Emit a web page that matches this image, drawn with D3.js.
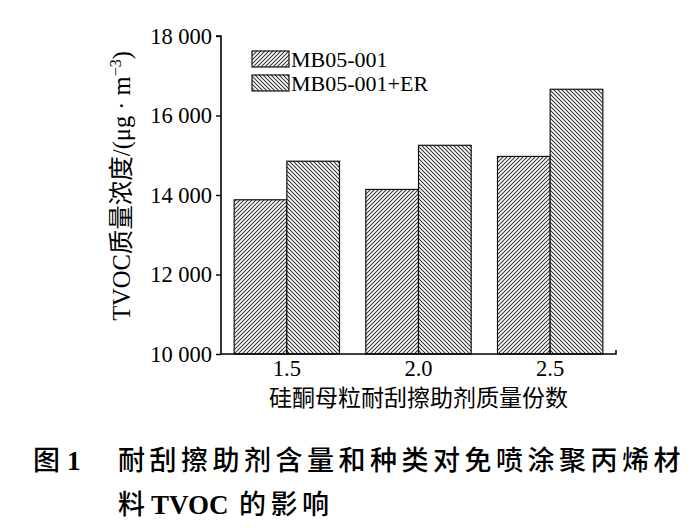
<!DOCTYPE html>
<html>
<head>
<meta charset="utf-8">
<script src="https://cdn.jsdelivr.net/npm/d3@7/dist/d3.min.js"></script>
<style>
  html, body { margin: 0; padding: 0; background: #fff; }
  svg { display: block; }
  .serif { font-family: "Liberation Serif", "Times New Roman", "Noto Sans CJK SC", serif; }
</style>
</head>
<body>
<svg id="chart" width="697" height="528"></svg>
<script>
// ---- data ----
const categories = ["1.5", "2.0", "2.5"];
const seriesNames = ["MB05-001", "MB05-001+ER"];
const seriesMB = [13880, 14140, 14970];
const seriesMBER = [14850, 15250, 16660];
const yTicks = [10000, 12000, 14000, 16000, 18000];
const yTickLabels = ["10 000", "12 000", "14 000", "16 000", "18 000"];
const xLabel = "硅酮母粒耐刮擦助剂质量份数";
const captionNum = ["图", "1"];
const captionLine1 = "耐刮擦助剂含量和种类对免喷涂聚丙烯材";
const captionLine2 = ["料 ", "TVOC", " 的影响"];

const svg = d3.select("#chart");
const defs = svg.append("defs");

// hatch patterns
function hatch(id, dir) {
  const s = 4;
  const p = defs.append("pattern").attr("id", id)
    .attr("patternUnits", "userSpaceOnUse").attr("width", s).attr("height", s);
  p.append("rect").attr("width", s).attr("height", s).attr("fill", "#fff");
  const d = dir > 0
    ? `M0,${s} L${s},0 M-1,1 L1,-1 M${s-1},${s+1} L${s+1},${s-1}`
    : `M0,0 L${s},${s} M-1,${s-1} L1,${s+1} M${s-1},-1 L${s+1},1`;
  p.append("path").attr("d", d).attr("stroke", "#333").attr("stroke-width", 1.05);
}
hatch("h1", 1);
hatch("h2", -1);
const fills = ["url(#h1)", "url(#h2)"];

const x0 = 221, x1 = 616, yTop = 36, yBot = 354;
const x = d3.scaleBand().domain(categories).range([x0, x1]).paddingInner(0.2).paddingOuter(0.1);
const xs = d3.scaleBand().domain(seriesNames).range([0, x.bandwidth()]);
const y = d3.scaleLinear().domain([10000, 18000]).range([yBot, yTop]);

const rows = categories.map((c, i) => ({ c, vals: [seriesMB[i], seriesMBER[i]] }));

// bars
const g = svg.append("g");
rows.forEach(r => {
  r.vals.forEach((v, j) => {
    g.append("rect")
      .attr("x", x(r.c) + xs(seriesNames[j]))
      .attr("y", y(v))
      .attr("width", xs.bandwidth())
      .attr("height", y(10000) - y(v))
      .attr("fill", fills[j])
      .attr("stroke", "#111")
      .attr("stroke-width", 1.2);
  });
});

// y axis
const yAxis = d3.axisLeft(y).tickValues(yTicks).tickSize(5).tickPadding(4)
  .tickFormat((d, i) => yTickLabels[i]);
const ya = svg.append("g").attr("transform", `translate(${x0},0)`).call(yAxis);
ya.select(".domain").attr("stroke", "#000").attr("stroke-width", 1.6).attr("d", `M-5,${yTop}H0V${yBot}`);
ya.selectAll(".tick line").attr("stroke", "#000").attr("stroke-width", 1.4);
ya.selectAll(".tick text").attr("class", "serif").attr("font-size", 22.5).attr("fill", "#000").attr("dy", "0.33em");
ya.attr("font-family", null);

// x axis
const xAxis = d3.axisBottom(x).tickSize(-4).tickPadding(12);
const xa = svg.append("g").attr("transform", `translate(0,${yBot})`).call(xAxis);
xa.select(".domain").attr("stroke", "#000").attr("stroke-width", 1.6).attr("d", `M${x0},0H${x1}V-4`);
xa.selectAll(".tick line").attr("stroke", "#000").attr("stroke-width", 1.2);
xa.selectAll(".tick text").attr("class", "serif").attr("font-size", 22.5).attr("fill", "#000").attr("dy", "0.71em").attr("y", 6);
xa.attr("font-family", null);

// axis titles
svg.append("text").attr("class", "serif")
  .attr("x", (x0 + x1) / 2).attr("y", 406)
  .attr("text-anchor", "middle").attr("font-size", 23).attr("fill", "#000")
  .text(xLabel);

const yl = svg.append("text").attr("class", "serif")
  .attr("transform", `translate(130,186) rotate(-90)`)
  .attr("text-anchor", "middle").attr("font-size", 24.5).attr("fill", "#000");
yl.append("tspan").text("TVOC质量浓度/(μg · m");
yl.append("tspan").attr("dy", -9).attr("font-size", 16).text("−3");
yl.append("tspan").attr("dy", 9).text(")");

// legend
const lg = svg.append("g");
seriesNames.forEach((n, j) => {
  const yy = 51 + j * 24;
  lg.append("rect").attr("x", 252).attr("y", yy).attr("width", 37).attr("height", 16)
    .attr("fill", fills[j]).attr("stroke", "#111").attr("stroke-width", 1.2);
  lg.append("text").attr("class", "serif").attr("x", 291).attr("y", yy + 16)
    .attr("font-size", 22).attr("fill", "#000").text(n);
});

// caption
const cjk = '"Noto Sans CJK SC", sans-serif';
const cap = svg.append("g");
cap.append("text").attr("x", 33).attr("y", 470).attr("font-size", 27).attr("fill", "#000")
  .attr("font-family", cjk).attr("font-weight", 500).text(captionNum[0]);
cap.append("text").attr("x", 67).attr("y", 470).attr("font-size", 27).attr("fill", "#000")
  .attr("font-family", '"Liberation Serif", serif').attr("font-weight", "bold").text(captionNum[1]);
cap.append("text").attr("x", 118).attr("y", 470).attr("font-size", 27).attr("fill", "#000")
  .attr("font-family", cjk).attr("font-weight", 500).attr("letter-spacing", 4.5).text(captionLine1);
const c2 = cap.append("text").attr("x", 118).attr("y", 514).attr("font-size", 27).attr("fill", "#000");
c2.append("tspan").attr("font-family", cjk).attr("font-weight", 500).text(captionLine2[0]);
c2.append("tspan").attr("font-family", '"Liberation Serif", serif').attr("font-weight", "bold").text(captionLine2[1]);
c2.append("tspan").attr("font-family", cjk).attr("font-weight", 500).attr("letter-spacing", 4.5).text(captionLine2[2]);
</script>
</body>
</html>
